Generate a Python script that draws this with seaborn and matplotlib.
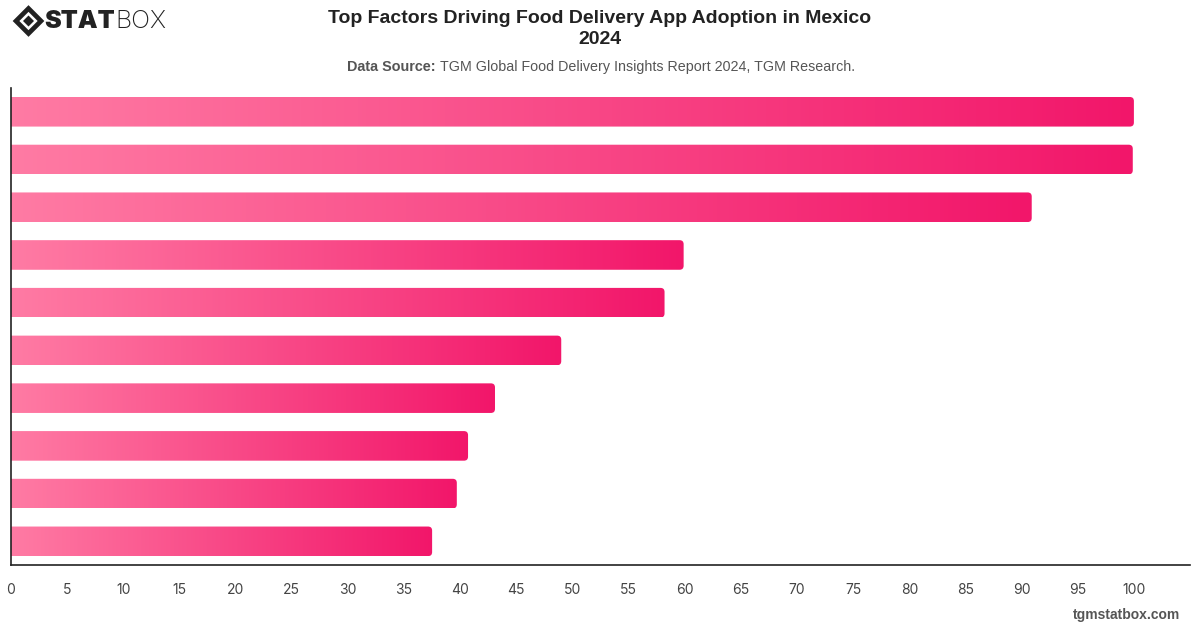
import numpy as np
import pandas as pd
import seaborn as sns
import matplotlib
matplotlib.use("Agg")
import matplotlib.pyplot as plt
from matplotlib.colors import LinearSegmentedColormap
from matplotlib.patches import FancyBboxPatch, Polygon

# data (category labels are not shown on the chart)
factors = [f"Factor {i}" for i in range(1, 11)]
shares = [100.0, 99.9, 90.9, 59.9, 58.2, 49.0, 43.1, 40.7, 39.7, 37.5]
x_ticks = list(range(0, 101, 5))

title = "Top Factors Driving Food Delivery App Adoption in Mexico\n2024"
source_label = "Data Source:"
source_text = "TGM Global Food Delivery Insights Report 2024, TGM Research."

bar_cmap = LinearSegmentedColormap.from_list("pinkbar", ["#ff7ba4", "#f2166a"])

sns.set_theme(style="white")
plt.rcParams["font.family"] = ["Inter", "DejaVu Sans"]
helv = ["Liberation Sans", "DejaVu Sans"]

df = pd.DataFrame({"factor": factors, "share": shares})

fig = plt.figure(figsize=(12, 6.28), dpi=100)
ax = fig.add_axes([0.0092, 0.100, 0.9825, 0.760])

sns.barplot(data=df, x="share", y="factor", orient="h", width=0.62,
            color="#f2166a", ax=ax)

XMAX = 105.0
ax.set_xlim(0, XMAX)
ax.set_ylim(len(factors) - 0.5, -0.5)

# swap plain bars for gradient bars with rounded right corners
grad = np.linspace(0, 1, 256).reshape(1, -1)
for patch in list(ax.patches):
    x0, y0 = patch.get_x(), patch.get_y()
    w, h = patch.get_width(), patch.get_height()
    patch.set_visible(False)
    box = FancyBboxPatch((x0 - 1, y0), w + 1, h,
                         boxstyle="round,pad=0,rounding_size=0.36",
                         mutation_aspect=0.235,
                         facecolor="none", edgecolor="none")
    ax.add_patch(box)
    img = ax.imshow(grad, cmap=bar_cmap, aspect="auto",
                    extent=(x0, x0 + w, y0 + h, y0), zorder=2)
    img.set_clip_path(box)

ax.set_xlim(0, XMAX)
ax.set_ylim(len(factors) - 0.5, -0.5)

ax.set_xticks(x_ticks)
ax.set_xticklabels([str(t) for t in x_ticks])
ax.set_yticks([])
ax.set_xlabel("")
ax.set_ylabel("")
ax.tick_params(axis="x", length=0, pad=13, labelsize=10, labelcolor="#444444")
for s in ["top", "right"]:
    ax.spines[s].set_visible(False)
for s in ["left", "bottom"]:
    ax.spines[s].set_color("#222222")
    ax.spines[s].set_linewidth(1.2)

# titles
fig.text(0.5, 1 - 10 / 628, title, ha="center", va="top", fontsize=14,
         fontweight="bold", color="#222222", family=helv, linespacing=1.3)
sub_y = 1 - 67 / 628
fig.text(347 / 1200, sub_y, source_label, ha="left", va="center", fontsize=10.4,
         fontweight="bold", color="#555555", family=helv)
fig.text(440 / 1200, sub_y, source_text, ha="left", va="center", fontsize=10.3,
         color="#555555", family=helv)

# logo
cx, cy = 28.5 / 1200, 1 - 21 / 628
sx, sy = 12.5 / 1200, 12.5 / 628
outer = Polygon([(cx - sx, cy), (cx, cy + sy), (cx + sx, cy), (cx, cy - sy)],
                closed=True, facecolor="none", edgecolor="#222222", lw=3.4,
                transform=fig.transFigure)
fig.add_artist(outer)
ix, iy = 5.5 / 1200, 5.5 / 628
inner = Polygon([(cx - ix, cy), (cx, cy + iy), (cx + ix, cy), (cx, cy - iy)],
                closed=True, facecolor="#222222", edgecolor="none",
                transform=fig.transFigure)
fig.add_artist(inner)
stat = fig.text(44 / 1200, cy, "STAT", ha="left", va="center", fontsize=18,
                fontweight="black", color="#222222", family=["Inter", "DejaVu Sans"])
fig.canvas.draw()
bb = stat.get_window_extent()
fig.text((bb.x1 + 1) / 1200, cy, "BOX", ha="left", va="center", fontsize=18,
         fontweight="light", color="#222222", family=["Inter", "DejaVu Sans"])

# watermark
fig.text(1180 / 1200, 1 - 615 / 628, "tgmstatbox.com", ha="right", va="center",
         fontsize=10, fontweight="bold", color="#555555", family=helv)

fig.savefig("out.png", dpi=100, facecolor="white")
